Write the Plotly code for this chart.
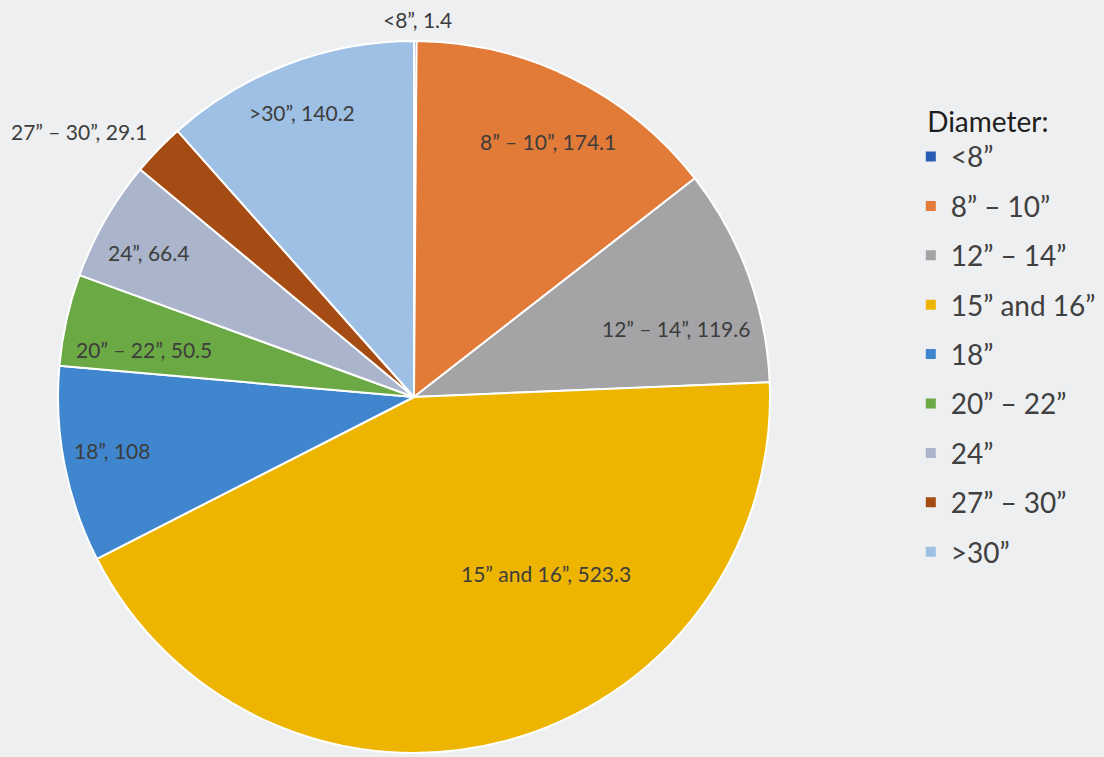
import math
import plotly.graph_objects as go

# Diameter categories and volumes, clockwise from 12 o'clock
labels = ["<8\u201d", "8\u201d \u2013 10\u201d", "12\u201d \u2013 14\u201d", "15\u201d and 16\u201d",
          "18\u201d", "20\u201d \u2013 22\u201d", "24\u201d", "27\u201d \u2013 30\u201d", ">30\u201d"]
values = [1.4, 174.1, 119.6, 523.3, 108, 50.5, 66.4, 29.1, 140.2]

colors = ["#2B5CB3", "#E27A38", "#A4A4A7", "#EDB500", "#3F86CF",
          "#6BA945", "#AAB4CA", "#A54C14", "#9DC0E4"]

# data label placement: radius as fraction of pie radius, angular nudge (deg)
label_r = [1.06, 0.81, 0.76, 0.62, 0.86, 0.77, 0.85, 1.20, 0.86]
label_nudge = [0.3, 1.5, 5.4, -22, 1, -2.6, -1.4, -5.6, -0.7]

W, H = 1104, 757
cx, cy, r = 414, 397, 356  # pie centre / radius in pixels
BG = "#EEEFF1"

fig = go.Figure()

fig.add_trace(
    go.Pie(
        labels=labels,
        values=values,
        sort=False,
        direction="clockwise",
        rotation=0,
        marker=dict(colors=colors, line=dict(color="white", width=2)),
        textinfo="none",
        hoverinfo="label+value",
        showlegend=False,
        domain=dict(x=[(cx - r) / W, (cx + r) / W],
                    y=[(H - cy - r) / H, (H - cy + r) / H]),
    )
)

# legend entries (one group each so the spacing can be opened up)
for lab, col in zip(labels, colors):
    fig.add_trace(
        go.Scatter(
            x=[None], y=[None], mode="markers", name=lab, legendgroup=lab,
            marker=dict(symbol="square", size=10, color=col),
            hoverinfo="skip",
        )
    )

# data labels at the slice mid-angles
total = sum(values)
cum = 0
for lab, v, rf, nd in zip(labels, values, label_r, label_nudge):
    ang = math.radians((cum + v / 2) / total * 360 + nd)
    cum += v
    px = cx + rf * r * math.sin(ang)
    py = cy - rf * r * math.cos(ang)
    fig.add_annotation(
        x=px / W, y=1 - py / H, xref="paper", yref="paper",
        text=f"{lab}, {v:g}", showarrow=False,
        xanchor="center", yanchor="middle",
        font=dict(family="Lato, sans-serif", size=21, color="#3D3D3D"),
    )

fig.update_layout(
    width=W,
    height=H,
    margin=dict(l=0, r=0, t=0, b=0),
    paper_bgcolor=BG,
    plot_bgcolor=BG,
    font=dict(family="Lato, sans-serif", color="#404040"),
    xaxis=dict(visible=False),
    yaxis=dict(visible=False),
    showlegend=True,
    legend=dict(
        title=dict(text="\u00a0\u00a0Diameter:", font=dict(size=28, color="#1E1E1E")),
        font=dict(size=28, color="#404040"),
        x=0.825,
        y=0.874,
        xanchor="left",
        yanchor="top",
        bgcolor="rgba(0,0,0,0)",
        itemsizing="trace",
        tracegroupgap=10,
    ),
)

fig.write_html("out.html", config={"displayModeBar": False},
               post_script="document.body.style.margin='0';")
